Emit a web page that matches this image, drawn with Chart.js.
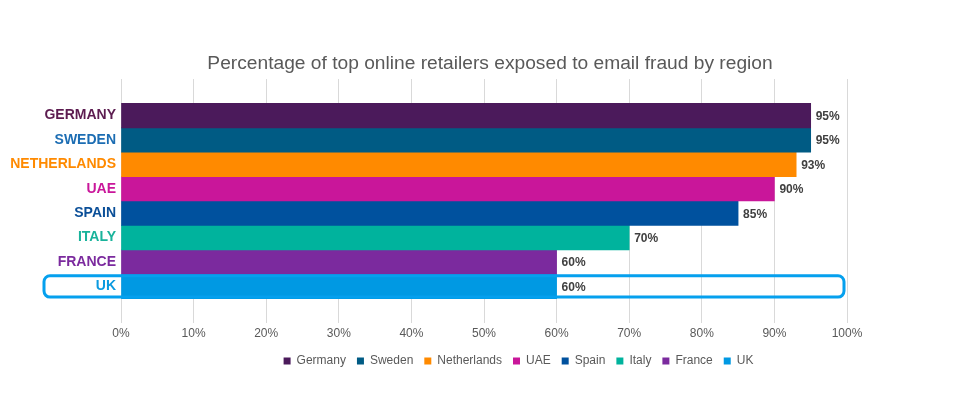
<!DOCTYPE html>
<html>
<head>
<meta charset="utf-8">
<script src="https://cdn.jsdelivr.net/npm/chart.js@4"></script>
<style>
  body { margin: 0; background: #fff; }
  #wrap { width: 953px; height: 395px; }
</style>
</head>
<body>
<div id="wrap"><canvas id="fraudChart"></canvas></div>
<script>
const regions = ["Germany", "Sweden", "Netherlands", "UAE", "Spain", "Italy", "France", "UK"];
const values = [95, 95, 93, 90, 85, 70, 60, 60];
const barColors = ["#4b1a5b", "#005b84", "#ff8a00", "#c9169a", "#00519e", "#00b39d", "#7b2a9e", "#0099e3"];
const labelColors = ["#5c1c50", "#1c6db3", "#ff8a00", "#c9169a", "#0b4f98", "#19b39b", "#7b2a9e", "#0b9ae0"];
const xTicks = [0, 10, 20, 30, 40, 50, 60, 70, 80, 90, 100];
const highlight = "UK";

Chart.defaults.font.family = "'Liberation Sans', Arial, sans-serif";

// empty rows above and below leave the space Excel puts round the bars
const rowLabels = ["", ...regions.map((r) => r.toUpperCase()), ""];
const rowColors = ["#fff", ...labelColors, "#fff"];

const datasets = regions.map((name, i) => {
  const data = rowLabels.map(() => null);
  data[i + 1] = values[i];
  return {
    label: name,
    data: data,
    backgroundColor: barColors[i],
    borderWidth: 0,
    barPercentage: 1,
    categoryPercentage: 1,
  };
});

// value labels at the end of each bar
const valueLabels = {
  id: "valueLabels",
  afterDatasetsDraw(chart) {
    const ctx = chart.ctx;
    ctx.save();
    ctx.font = "bold 12px 'Liberation Sans', Arial, sans-serif";
    ctx.fillStyle = "#404040";
    ctx.textBaseline = "middle";
    ctx.textAlign = "left";
    chart.data.datasets.forEach((ds, di) => {
      const meta = chart.getDatasetMeta(di);
      meta.data.forEach((bar, j) => {
        if (ds.data[j] == null) return;
        ctx.fillText(ds.data[j] + "%", bar.x + 5, bar.y + 1);
      });
    });
    ctx.restore();
  },
};

// rounded box round the highlighted row
const rowBox = {
  id: "rowBox",
  afterDatasetsDraw(chart) {
    const y = chart.scales.y;
    const x = chart.scales.x;
    const idx = rowLabels.indexOf(highlight.toUpperCase());
    const band = y.getPixelForValue(1) - y.getPixelForValue(0);
    const cy = y.getPixelForValue(idx);
    const top = cy - band / 2 + 1.5;
    const h = band - 3;
    const left = 44;
    const right = x.getPixelForValue(100) - 3;
    const ctx = chart.ctx;
    ctx.save();
    ctx.strokeStyle = "#05a0ee";
    ctx.lineWidth = 3;
    ctx.beginPath();
    ctx.roundRect(left, top, right - left, h, 6);
    ctx.stroke();
    ctx.restore();
  },
};

// nudge title and legend to where Excel centred them
const nudge = {
  id: "nudge",
  afterLayout(chart) {
    if (chart.titleBlock) {
      chart.titleBlock.left += 6;
      chart.titleBlock.right += 6;
    }
    chart.legend.left += 95;
    chart.legend.right += 95;
  },
};

new Chart(document.getElementById("fraudChart"), {
  type: "bar",
  data: { labels: rowLabels, datasets: datasets },
  options: {
    indexAxis: "y",
    responsive: true,
    maintainAspectRatio: false,
    animation: false,
    layout: { padding: { left: 0, right: 106, top: 0, bottom: 18 } },
    scales: {
      x: {
        stacked: true,
        min: 0,
        max: 100,
        afterBuildTicks: (scale) => {
          scale.ticks = xTicks.map((v) => ({ value: v }));
        },
        afterFit: (scale) => {
          scale.height = 21;
        },
        grid: { color: "#d9d9d9", drawTicks: false },
        border: { display: false },
        ticks: {
          padding: 3,
          color: "#595959",
          font: { size: 12 },
          callback: (v) => v + "%",
        },
      },
      y: {
        stacked: true,
        offset: true,
        afterFit: (scale) => {
          scale.width = 121;
        },
        grid: { display: false, drawTicks: false },
        border: { display: false },
        ticks: {
          padding: 5,
          autoSkip: false,
          color: rowColors,
          font: { size: 14, weight: "bold" },
        },
      },
    },
    plugins: {
      title: {
        display: true,
        fullSize: false,
        text: "Percentage of top online retailers exposed to email fraud by region",
        color: "#595959",
        font: { size: 19.2, weight: "normal" },
        padding: { top: 52, bottom: 4 },
      },
      legend: {
        position: "bottom",
        labels: {
          boxWidth: 7,
          boxHeight: 7,
          padding: 11,
          color: "#595959",
          font: { size: 12 },
        },
      },
      tooltip: { enabled: false },
    },
  },
  plugins: [valueLabels, rowBox, nudge],
});
</script>
</body>
</html>
